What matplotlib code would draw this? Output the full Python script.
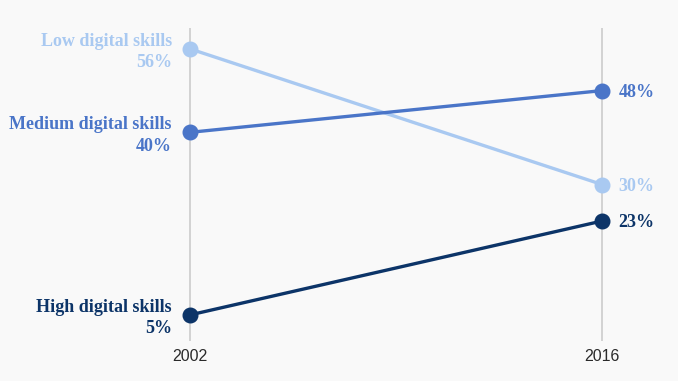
import matplotlib
matplotlib.use("Agg")
import matplotlib.pyplot as plt

years = ["2002", "2016"]
series = ["Low digital skills", "Medium digital skills", "High digital skills"]
values_2002 = [56, 40, 5]
values_2016 = [30, 48, 23]
colors = ["#a9c9f1", "#4a75c8", "#0c3468"]

bg = "#f9f9f9"
fig = plt.figure(figsize=(6.78, 3.81), dpi=100, facecolor=bg)
ax = fig.add_axes([0, 1 - 341 / 381, 1, (341 - 28) / 381], facecolor=bg)

x = [0, 1]
for xi in x:
    ax.axvline(xi, color="#d0d0d0", lw=1.3, zorder=1)

serif = ["Liberation Serif", "DejaVu Serif"]
fs = 13
for name, v0, v1, c in zip(series, values_2002, values_2016, colors):
    ax.plot(x, [v0, v1], color=c, lw=2.4, zorder=3, solid_capstyle="round")
    ax.plot(x, [v0, v1], "o", color=c, ms=10.5, zorder=4)
    ax.annotate(f"{name}\n{v0}%", (0, v0), xytext=(-13, -2.2), textcoords="offset points",
                ha="right", va="center", color=c, fontsize=fs, fontweight="bold",
                family=serif, linespacing=1.33, multialignment="right")
    ax.annotate(f"{v1}%", (1, v1), xytext=(12, -1.2), textcoords="offset points",
                ha="left", va="center", color=c, fontsize=fs, fontweight="bold",
                family=serif)

ax.set_xlim(-190 / 412, 488 / 412)
ax.set_ylim(0, 60)
ax.set_xticks(x)
ax.set_xticklabels(years, family=["Liberation Sans Narrow", "Liberation Sans", "DejaVu Sans"],
                   fontsize=11.5, color="#2a2a2a")
ax.tick_params(axis="x", length=0, pad=6)
ax.set_yticks([])
for s in ax.spines.values():
    s.set_visible(False)

fig.savefig("out.png", dpi=100, facecolor=bg)
